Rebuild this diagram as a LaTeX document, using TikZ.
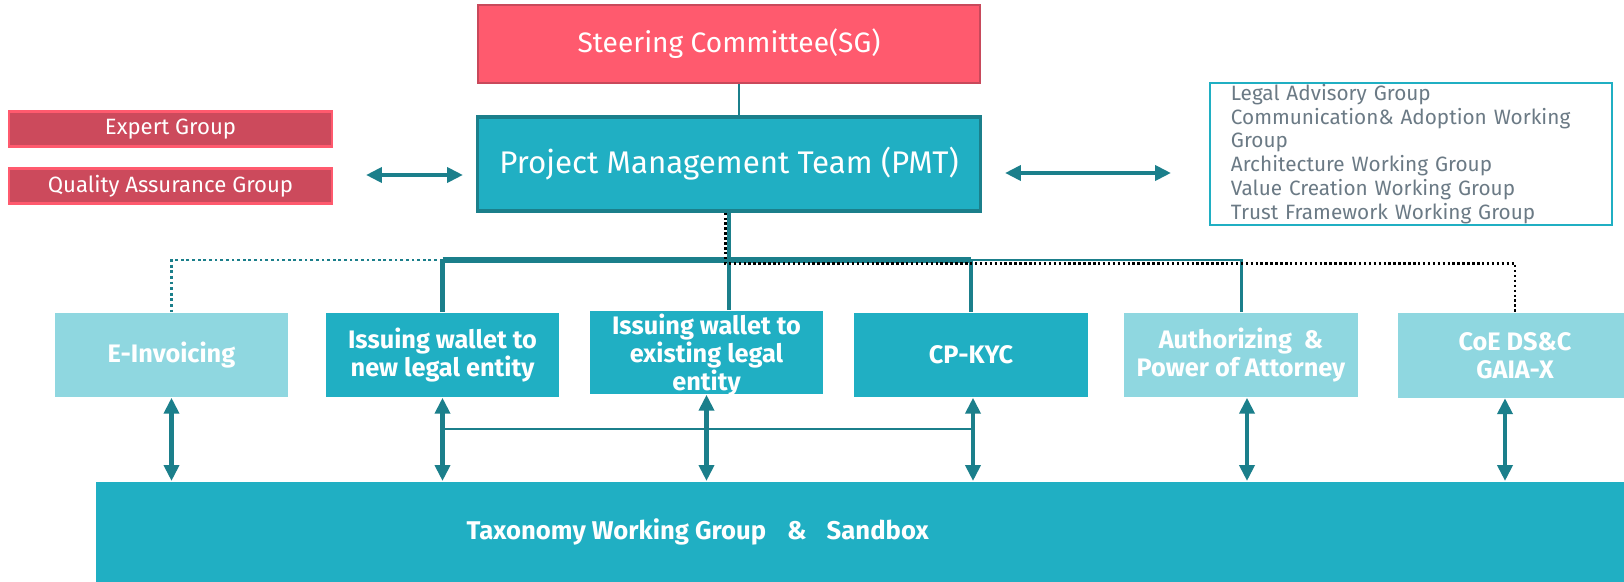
\documentclass[tikz,border=0pt]{standalone}
\usepackage{fontspec}
\setmainfont{Fira Sans}
\usetikzlibrary{arrows.meta}
\definecolor{sgred}{HTML}{FF5A6E}
\definecolor{sgedge}{HTML}{C8495B}
\definecolor{grpred}{HTML}{CC4A5C}
\definecolor{wgteal}{HTML}{20AFC3}
\definecolor{wglight}{HTML}{8FD7E0}
\definecolor{wgdark}{HTML}{1B7F8B}
\definecolor{wggray}{HTML}{6B7A85}
\begin{document}
\begin{tikzpicture}[x=0.01cm,y=-0.01cm,>={Triangle[length=4.5pt,width=4.2pt]},
  box/.style={minimum height=0.84cm,minimum width=2.33cm,inner sep=1pt,align=center,
    text=white,font=\fontsize{7.2}{8}\selectfont\bfseries},
  dark/.style={box,fill=wgteal},
  light/.style={box,fill=wglight},
  grp/.style={draw=sgred,fill=grpred,line width=0.6pt,minimum width=3.23cm,
    minimum height=0.35cm,inner sep=0pt,text=white,font=\fontsize{6.3}{8}\selectfont},
  link/.style={draw=wgdark,line width=1.2pt},
  thin/.style={draw=wgdark,line width=0.85pt},
  dbl/.style={link,<->}]
\useasboundingbox[fill=white] (0,0) rectangle (1624,582);

% top
\node[draw=sgedge,line width=0.6pt,fill=sgred,minimum width=5.02cm,minimum height=0.78cm,
  text=white,font=\fontsize{8}{10}\selectfont] (sg) at (729,44) {Steering Committee(SG)};
\node[draw=wgdark,line width=0.9pt,fill=wgteal,minimum width=5.02cm,minimum height=0.94cm,
  text=white,font=\fontsize{8.9}{11}\selectfont] (pmt) at (729,164) {Project Management Team (PMT)};
\node[grp] (expert) at (170.5,129) {Expert Group};
\node[grp] (qa) at (170.5,186) {Quality Assurance Group};
\node[draw=wgteal,line width=0.6pt,minimum width=4.02cm,minimum height=1.42cm,text width=3.6cm,
  inner xsep=0.21cm,inner ysep=0pt,align=left,text=wggray,font=\fontsize{5.9}{6.8}\selectfont] (wg) at (1411,154)
  {Legal Advisory Group\\Communication\& Adoption Working\\Group\\Architecture Working Group\\
   Value Creation Working Group\\Trust Framework Working Group};

\coordinate (la) at (366,175);
\coordinate (lb) at (463,175);
\coordinate (ra) at (1005,173);
\coordinate (rb) at (1171,173);
\draw[dbl] (la) -- (lb);
\draw[dbl] (ra) -- (rb);

% working groups
\node[light] (einv) at (171.5,355) {E-Invoicing};
\node[dark] (newle) at (442.5,355) {Issuing wallet to\\new legal entity};
\node[dark,minimum height=0.83cm] (exle) at (706.5,352.5) {};
\node[box] (exletxt) at (706.5,355) {Issuing wallet to\\existing legal\\entity};
\node[dark] (cpkyc) at (971,355) {CP-KYC};
\node[light] (auth) at (1241,355) {Authorizing\ \ \&\\Power of Attorney};
\node[light] (coe) at (1515,355.5) {CoE DS\&C\\GAIA-X};

\node[fill=wgteal,minimum width=15.5cm,minimum height=1.1cm,inner sep=0pt,anchor=north west] (bar) at (95,481) {};
\node[anchor=west,inner sep=0pt,text=white,font=\fontsize{7.3}{8}\selectfont\bfseries] (barlbl) at (466,532)
  {Taxonomy Working Group\hspace{0.21cm}\&\hspace{0.2cm}Sandbox};

\coordinate (bus) at (0,260);
\coordinate (cross) at (0,429);

\draw[wgdark,line width=0.6pt] ([xshift=0.1cm]sg.south) -- ([xshift=0.1cm]pmt.north);
\draw[link] (pmt.south) -- (pmt |- bus);
\draw[wgdark,line width=1.7pt] (newle |- bus) -- (cpkyc |- bus);
\draw[link] (newle |- bus) -- (newle.north);
\draw[link] (pmt |- bus) -- (pmt |- exle.north);
\draw[link] (cpkyc |- bus) -- (cpkyc.north);
\draw[thin] (cpkyc |- bus) -- (auth |- bus) -- (auth.north);
\draw[thin,dash pattern=on 0.8pt off 0.8pt] (newle |- bus) -- (einv |- bus) -- (einv.north);
\draw[black,line width=0.6pt,dash pattern=on 0.7pt off 0.7pt]
  ([xshift=-1pt]pmt.south) -- ([xshift=-1pt,yshift=-1pt]pmt.south |- bus) -| (coe.north);

\foreach \b/\s in {einv/0,newle/0,exle/0,cpkyc/2,auth/6,coe/-10}
  \draw[dbl] ([xshift=\s*0.01cm]\b.south) -- ([xshift=\s*0.01cm]\b.south |- bar.north);
\draw[thin] (newle |- cross) -- (cpkyc |- cross);
\end{tikzpicture}
\end{document}
